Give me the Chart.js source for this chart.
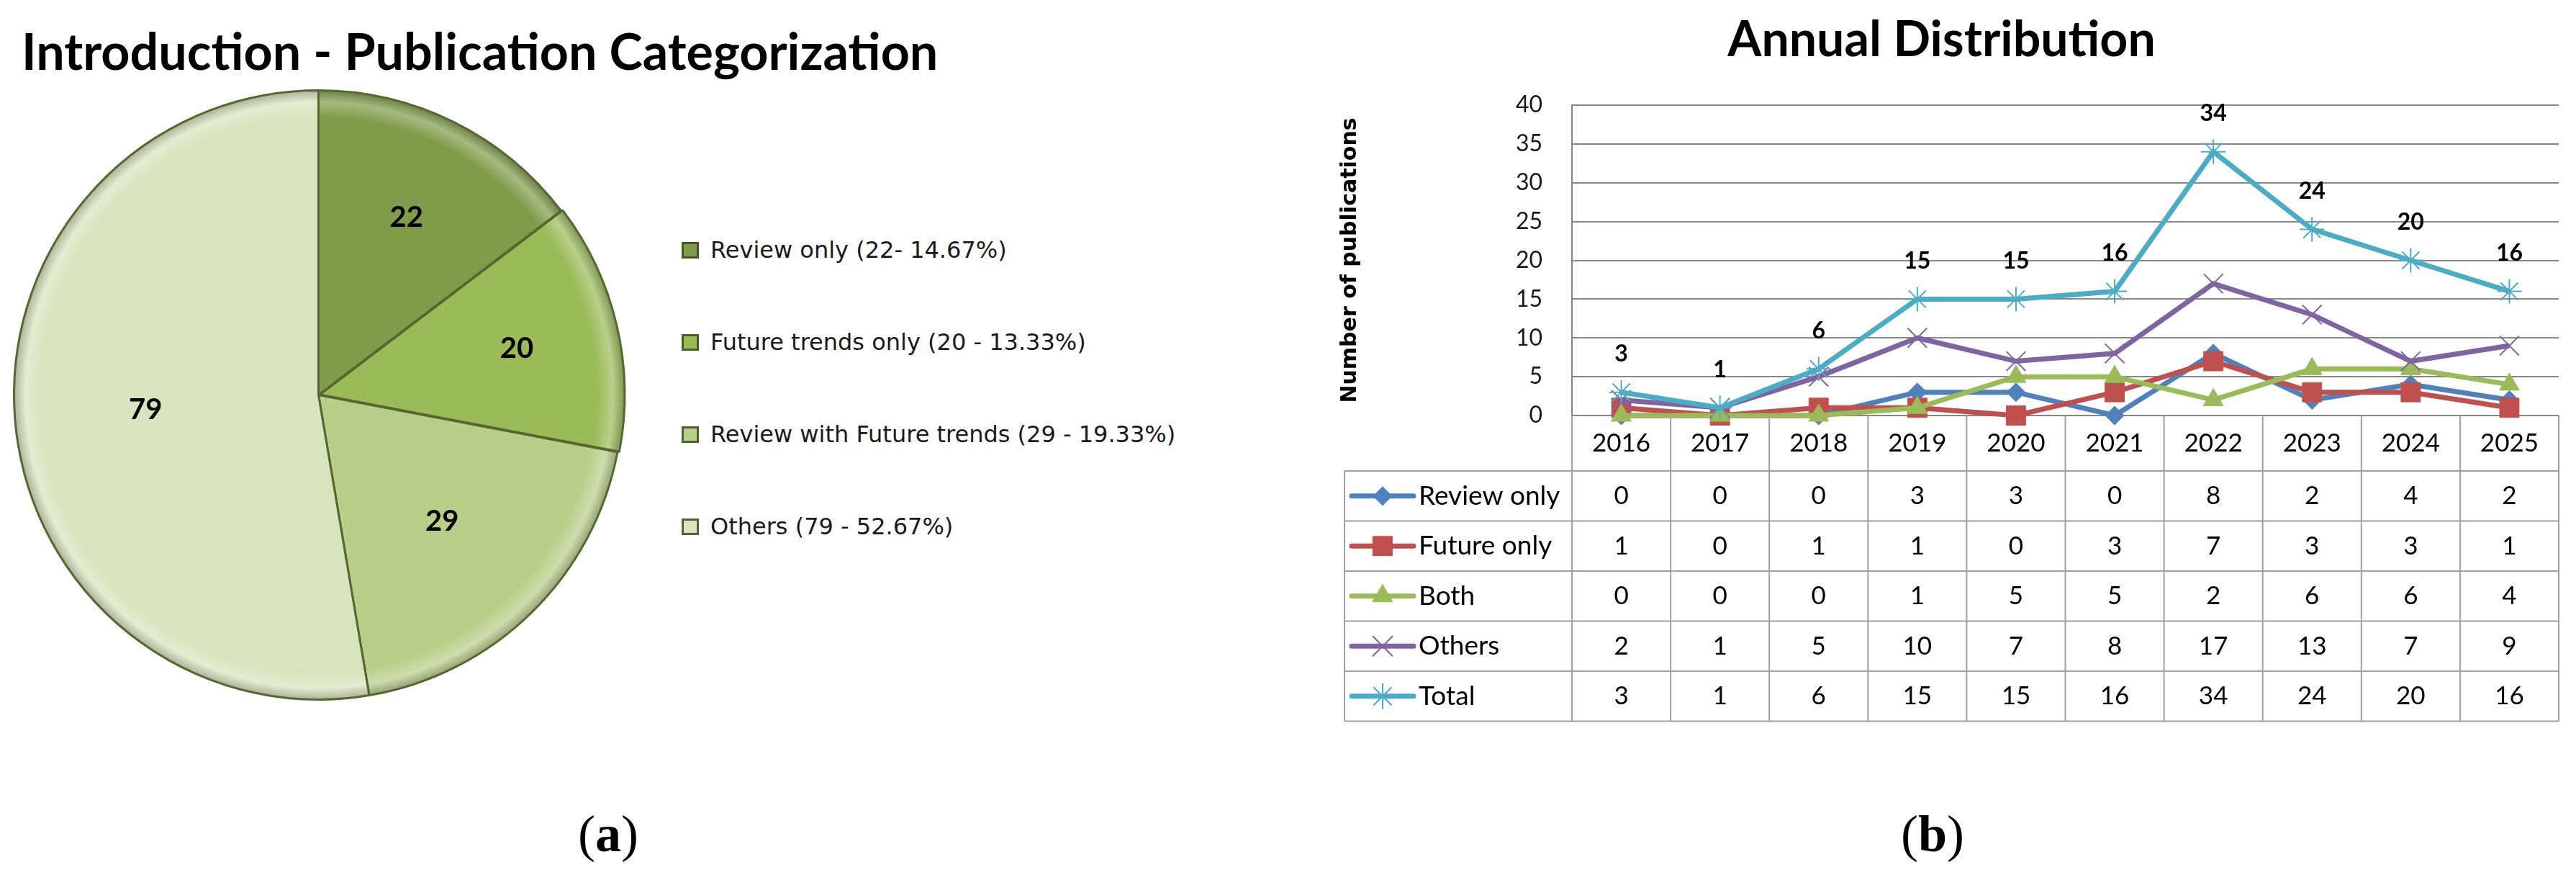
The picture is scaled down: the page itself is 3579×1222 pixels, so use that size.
<!DOCTYPE html>
<html>
<head>
<meta charset="utf-8">
<title>Publication categorization and annual distribution</title>
<script src="https://cdn.jsdelivr.net/npm/chart.js@4.4.1/dist/chart.umd.min.js"></script>
<style>
  html, body { margin: 0; padding: 0; background: #fff; }
  body { width: 3579px; height: 1222px; position: relative; overflow: hidden; }
  .box { position: absolute; }
  #pieTitle { left: 30px; top: 35px; font: bold 70px Lato, sans-serif; line-height: 70px; white-space: nowrap; color: #000; }
  #pieLegend { left: 947px; top: 283px; font: 32px "DejaVu Sans", sans-serif; color: #1a1a1a; }
  #pieLegend .item { height: 128px; display: flex; align-items: center; white-space: nowrap; }
  #pieLegend .key { width: 24px; height: 23px; margin-right: 16px; box-sizing: border-box; border: 3px solid rgba(60, 75, 30, 0.85); }
  .caption { width: 200px; text-align: center; font: 72px "Liberation Serif", serif; line-height: 72px; color: #000; }
  .caption b { font-weight: bold; }
</style>
</head>
<body>
<div class="box" id="pieTitle">Introduction - Publication Categorization</div>
<div class="box" style="left:0; top:0; width:884px; height:1000px;"><canvas id="pieChart"></canvas></div>
<div class="box" id="pieLegend"></div>
<div class="box" style="left:1800px; top:0; width:1779px; height:1020px;"><canvas id="lineChart"></canvas></div>
<div class="box caption" style="left:745px; top:1122px;">(<b>a</b>)</div>
<div class="box caption" style="left:2585px; top:1122px;">(<b>b</b>)</div>

<script>
// pie: publication categories
const pieCategories = ['Review only', 'Future trends only', 'Review with Future trends', 'Others'];
const pieCounts = [22, 20, 29, 79];
const pieLegendText = ['Review only (22- 14.67%)', 'Future trends only (20 - 13.33%)', 'Review with Future trends (29 - 19.33%)', 'Others (79 - 52.67%)'];
const pieColors = ['#809c4a', '#9bbb59', '#b8cf8a', '#d7e4bd'];

// line chart: annual distribution
const years = ['2016', '2017', '2018', '2019', '2020', '2021', '2022', '2023', '2024', '2025'];
const reviewOnly = [0, 0, 0, 3, 3, 0, 8, 2, 4, 2];
const futureOnly = [1, 0, 1, 1, 0, 3, 7, 3, 3, 1];
const both = [0, 0, 0, 1, 5, 5, 2, 6, 6, 4];
const others = [2, 1, 5, 10, 7, 8, 17, 13, 7, 9];
const total = [3, 1, 6, 15, 15, 16, 34, 24, 20, 16];
const seriesNames = ['Review only', 'Future only', 'Both', 'Others', 'Total'];
const yMin = 0, yMax = 40, yStep = 5;

Chart.defaults.font.family = 'Lato, sans-serif';
Chart.defaults.color = '#000';

// mix a hex colour with white (amt > 0) or black (amt < 0)
function shade(hex, amt) {
    const n = parseInt(hex.slice(1), 16);
    const t = amt < 0 ? 0 : 255, p = Math.abs(amt);
    const ch = s => Math.round(((n >> s) & 255) * (1 - p) + t * p);
    return `rgb(${ch(16)}, ${ch(8)}, ${ch(0)})`;
}

// bevel-like radial shading for the slices
function sliceFill(context) {
    const base = pieColors[context.dataIndex];
    const area = context.chart.chartArea;
    if (!area) return base;
    const cx = (area.left + area.right) / 2;
    const cy = (area.top + area.bottom) / 2;
    const r = Math.min(area.right - area.left, area.bottom - area.top) / 2;
    const g = context.chart.ctx.createRadialGradient(cx, cy, 0, cx, cy, r);
    g.addColorStop(0, base);
    g.addColorStop(0.9, base);
    g.addColorStop(0.95, shade(base, 0.3));
    g.addColorStop(1, shade(base, -0.3));
    return g;
}

// numbers inside the slices
const sliceLabels = {
    id: 'sliceLabels',
    afterDatasetsDraw(chart, args, opts) {
        const ctx = chart.ctx;
        const meta = chart.getDatasetMeta(0);
        ctx.save();
        ctx.font = opts.font;
        ctx.fillStyle = opts.color;
        ctx.textAlign = 'center';
        ctx.textBaseline = 'middle';
        meta.data.forEach((arc, i) => {
            const p = arc.getProps(['x', 'y', 'startAngle', 'endAngle', 'outerRadius']);
            const mid = (p.startAngle + p.endAngle) / 2;
            const r = p.outerRadius * opts.radius[i] + (arc.options.offset || 0);
            ctx.fillText(String(chart.data.datasets[0].data[i]), p.x + Math.cos(mid) * r, p.y + Math.sin(mid) * r);
        });
        ctx.restore();
    }
};

const pieChart = new Chart(document.getElementById('pieChart'), {
    type: 'pie',
    data: {
        labels: pieCategories,
        datasets: [{
            data: pieCounts,
            backgroundColor: sliceFill,
            borderColor: '#56682f',
            borderWidth: 3,
            offset: [0, 8, 0, 0]
        }]
    },
    options: {
        responsive: true,
        maintainAspectRatio: false,
        animation: false,
        layout: { padding: { left: 14, right: 13, top: 120, bottom: 23 } },
        plugins: {
            legend: { display: false },
            tooltip: { enabled: false },
            sliceLabels: { font: 'bold 40px Lato, sans-serif', color: '#000', radius: [0.65, 0.65, 0.58, 0.57] }
        }
    },
    plugins: [sliceLabels]
});

// html legend built from the pie data
const legendBox = document.getElementById('pieLegend');
pieLegendText.forEach((txt, i) => {
    const item = document.createElement('div');
    item.className = 'item';
    const key = document.createElement('span');
    key.className = 'key';
    key.style.background = pieColors[i];
    item.appendChild(key);
    item.appendChild(document.createTextNode(txt));
    legendBox.appendChild(item);
});

// value labels above the Total line
const totalLabels = {
    id: 'totalLabels',
    afterDatasetsDraw(chart, args, opts) {
        const ctx = chart.ctx;
        const meta = chart.getDatasetMeta(opts.datasetIndex);
        const values = chart.data.datasets[opts.datasetIndex].data;
        ctx.save();
        ctx.font = opts.font;
        ctx.fillStyle = '#000';
        ctx.textAlign = 'center';
        ctx.textBaseline = 'middle';
        meta.data.forEach((pt, i) => ctx.fillText(String(values[i]), pt.x, pt.y - opts.offset));
        ctx.restore();
    }
};

// data table under the plot, columns taken from the x scale
const dataTable = {
    id: 'dataTable',
    afterDraw(chart, args, opts) {
        const {ctx, chartArea} = chart;
        const x = chart.scales.x;
        const n = chart.data.labels.length;
        const sets = chart.data.datasets;
        const top = chartArea.bottom;
        const rowTop = top + opts.headHeight;
        const bottom = rowTop + opts.rowHeight * sets.length;
        const tableLeft = chartArea.left - opts.labelWidth;
        const edge = i => i === 0 ? chartArea.left : i === n ? chartArea.right
            : (x.getPixelForValue(i - 1) + x.getPixelForValue(i)) / 2;

        ctx.save();
        ctx.strokeStyle = opts.lineColor;
        ctx.lineWidth = 2;
        ctx.beginPath();
        for (let i = 0; i <= n; i++) {
            ctx.moveTo(edge(i), top);
            ctx.lineTo(edge(i), bottom);
        }
        ctx.moveTo(tableLeft, rowTop);
        ctx.lineTo(tableLeft, bottom);
        for (let r = 0; r <= sets.length; r++) {
            ctx.moveTo(tableLeft, rowTop + r * opts.rowHeight);
            ctx.lineTo(chartArea.right, rowTop + r * opts.rowHeight);
        }
        ctx.stroke();

        ctx.fillStyle = '#000';
        ctx.textBaseline = 'middle';
        ctx.textAlign = 'center';
        ctx.font = opts.cellFont;
        chart.data.labels.forEach((lab, i) => ctx.fillText(lab, x.getPixelForValue(i), top + opts.headHeight / 2));

        sets.forEach((ds, r) => {
            const cy = rowTop + (r + 0.5) * opts.rowHeight;
            // legend key
            ctx.strokeStyle = ds.borderColor;
            ctx.lineWidth = ds.borderWidth;
            ctx.lineCap = 'round';
            ctx.beginPath();
            ctx.moveTo(tableLeft + 10, cy);
            ctx.lineTo(tableLeft + 96, cy);
            ctx.stroke();
            ctx.fillStyle = ds.borderColor;
            ctx.lineWidth = ds.pointBorderWidth;
            Chart.helpers.drawPoint(ctx, { pointStyle: ds.pointStyle, radius: ds.pointRadius, borderWidth: ds.pointBorderWidth, rotation: 0 }, tableLeft + 53, cy);
            ctx.fillStyle = '#000';
            ctx.textAlign = 'left';
            ctx.font = opts.labelFont;
            ctx.fillText(ds.label, tableLeft + 103, cy);
            ctx.textAlign = 'center';
            ctx.font = opts.cellFont;
            ds.data.forEach((v, i) => ctx.fillText(String(v), x.getPixelForValue(i), cy));
        });
        ctx.restore();
    }
};

const seriesValues = [reviewOnly, futureOnly, both, others, total];
const seriesColors = ['#4f81bd', '#c0504d', '#9bbb59', '#8064a2', '#4bacc6'];
const seriesPoints = ['rectRot', 'rect', 'triangle', 'crossRot', 'star'];
const pointSizes = [13, 19, 16, 19, 17];
const pointStrokes = [1, 1, 1, 2, 2];

new Chart(document.getElementById('lineChart'), {
    type: 'line',
    data: {
        labels: years,
        datasets: seriesNames.map((name, i) => ({
            label: name,
            data: seriesValues[i],
            borderColor: seriesColors[i],
            backgroundColor: seriesColors[i],
            borderWidth: 7,
            pointStyle: seriesPoints[i],
            pointRadius: pointSizes[i],
            pointBorderWidth: pointStrokes[i],
            pointBackgroundColor: seriesColors[i],
            pointBorderColor: seriesColors[i],
            tension: 0,
            clip: false,
            order: -i
        }))
    },
    options: {
        responsive: true,
        maintainAspectRatio: false,
        animation: false,
        layout: { padding: { left: 40, right: 24, top: 0, bottom: 443 } },
        plugins: {
            legend: { display: false },
            tooltip: { enabled: false },
            title: {
                display: true,
                text: 'Annual Distribution',
                color: '#000',
                font: { size: 68, weight: 'bold', family: 'Lato, sans-serif', lineHeight: 1.2 },
                padding: { top: 15, bottom: 49.4 }
            },
            totalLabels: { datasetIndex: 4, offset: 53, font: 'bold 32px Lato, sans-serif' },
            dataTable: {
                headHeight: 77, rowHeight: 69.5, labelWidth: 316, lineColor: '#a0a0a0',
                cellFont: '35px Lato, sans-serif', labelFont: '37px Lato, sans-serif'
            }
        },
        scales: {
            x: { type: 'category', offset: true, display: false },
            y: {
                min: yMin,
                max: yMax,
                ticks: { stepSize: yStep, padding: 41, color: '#1a1a1a', font: { size: 32 } },
                grid: { color: '#868686', lineWidth: 2, drawTicks: false },
                border: { display: true, color: '#868686', width: 2 },
                title: {
                    display: true,
                    text: 'Number of publications',
                    color: '#000',
                    font: { family: '"DejaVu Sans", sans-serif', weight: 'bold', size: 30, lineHeight: 1.2 },
                    padding: { top: 18, bottom: 0 }
                },
                afterFit(scale) { scale.width = 344; }
            }
        }
    },
    plugins: [totalLabels, dataTable]
});
</script>
</body>
</html>
